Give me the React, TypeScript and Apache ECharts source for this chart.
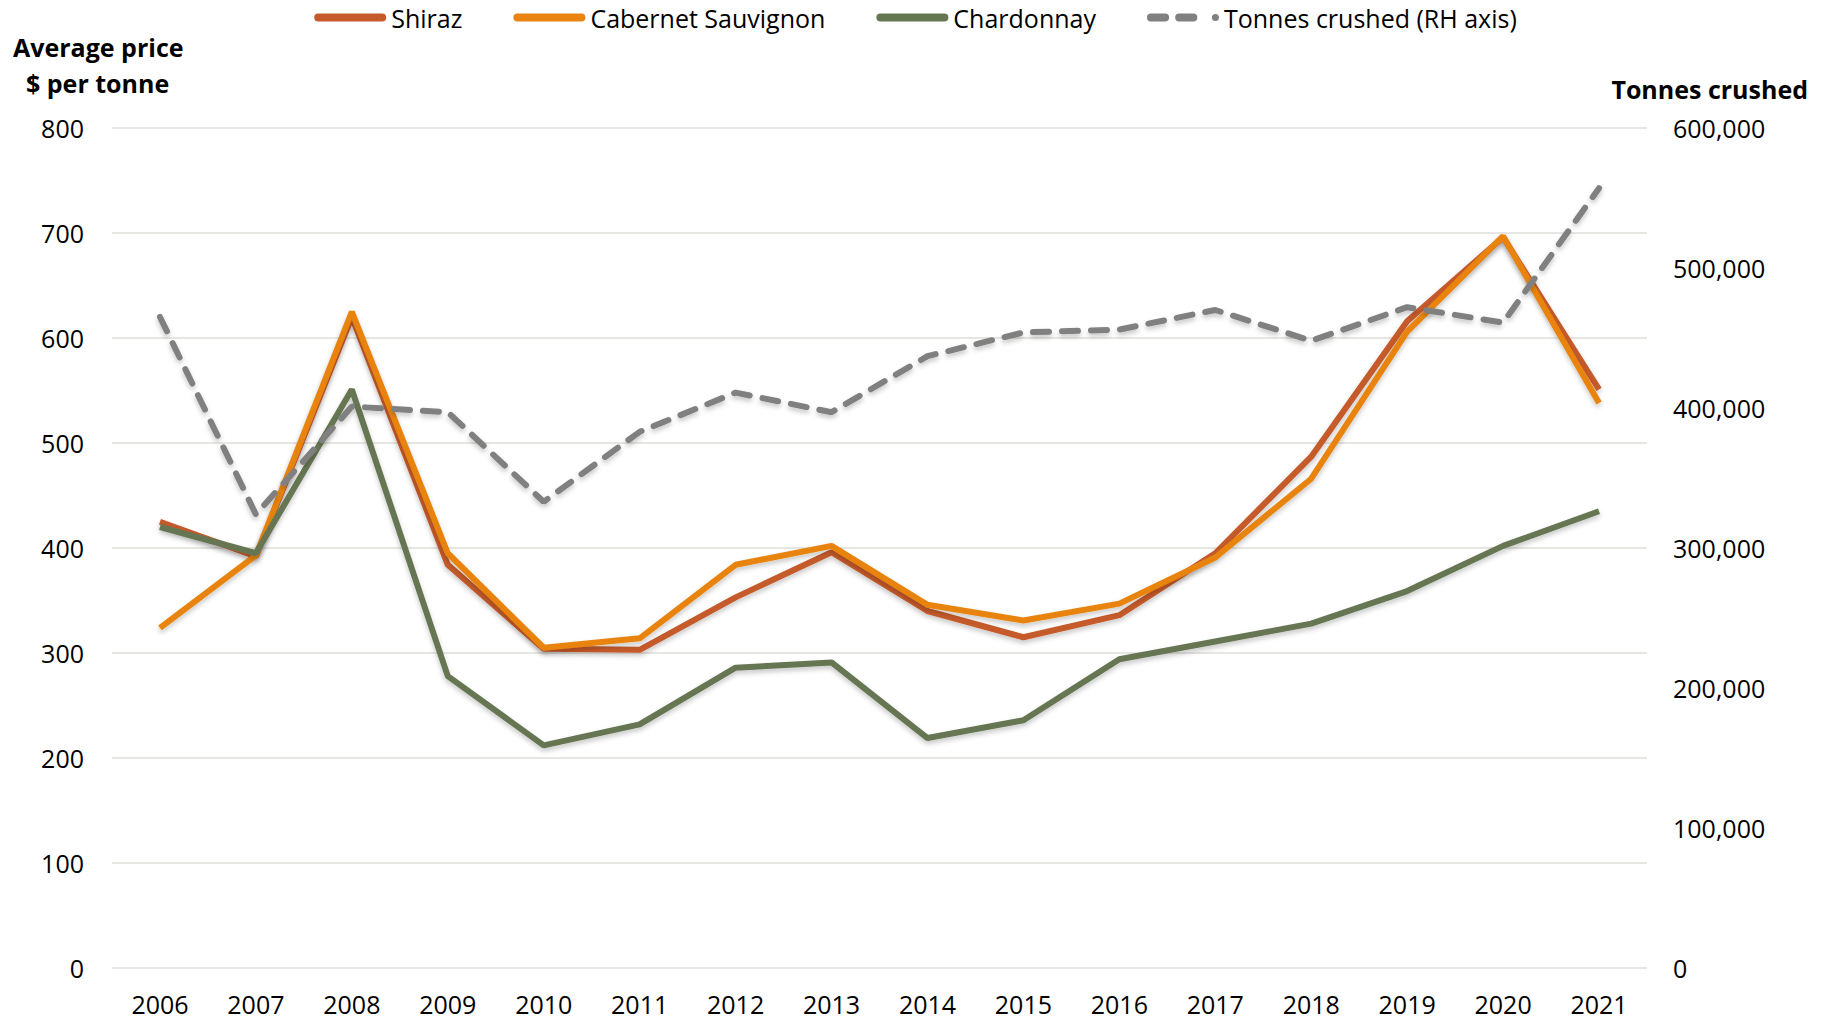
import React, { useEffect, useRef } from "react";
import * as echarts from "echarts";

const years = ["2006","2007","2008","2009","2010","2011","2012","2013","2014","2015","2016","2017","2018","2019","2020","2021"];
const shiraz = [425, 392, 620, 384, 304, 303, 353, 396, 340, 315, 336, 395, 487, 616, 696, 551];
const cabernet = [324, 393, 625, 395, 305, 314, 384, 402, 346, 331, 347, 391, 466, 606, 697, 538];
const chardonnay = [420, 395, 551, 278, 212, 232, 286, 291, 219, 236, 294, 311, 328, 359, 402, 435];
const tonnes = [465000, 324000, 401000, 397000, 333000, 383000, 411000, 397000, 437000, 454000, 456000, 470000, 448000, 472000, 461000, 557000];
const leftTicks = { min: 0, max: 800, interval: 100 };
const rightTicks = { min: 0, max: 600000, interval: 100000 };

const FONT = "'Open Sans', 'Noto Sans', sans-serif";
const SOLID_ICON = "path://M4,0 H68 A4,4 0 0 1 68,8 H4 A4,4 0 0 1 4,0 Z";
const DASH_ICON = "path://M4,0 H18 A4,4 0 0 1 18,8 H4 A4,4 0 0 1 4,0 Z M32,0 H46 A4,4 0 0 1 46,8 H32 A4,4 0 0 1 32,0 Z M68,0.5 A3.5,3.5 0 1 1 68,7.5 A3.5,3.5 0 1 1 68,0.5 Z";

export default function App() {
  const ref = useRef<HTMLDivElement>(null);
  useEffect(() => {
    if (!ref.current) return;
    const chart = echarts.init(ref.current, null, { renderer: "svg" });
    const shadow = { shadowColor: "rgba(0,0,0,0.22)", shadowBlur: 5, shadowOffsetY: 3 };
    chart.setOption({
      animation: false,
      backgroundColor: "#ffffff",
      textStyle: { fontFamily: FONT },
      grid: { left: 112, right: 184, top: 128, bottom: 52, containLabel: false },
      legend: {
        top: 0,
        left: "center",
        itemWidth: 72,
        itemHeight: 14,
        itemGap: 51,
        symbolKeepAspect: true,
        textStyle: { fontFamily: FONT, fontSize: 25, color: "#000" },
        data: [
          { name: "Shiraz", icon: SOLID_ICON, itemStyle: { borderWidth: 0 } },
          { name: "Cabernet Sauvignon", icon: SOLID_ICON, itemStyle: { borderWidth: 0 } },
          { name: "Chardonnay", icon: SOLID_ICON, itemStyle: { borderWidth: 0 } },
          { name: "Tonnes crushed (RH axis)", icon: DASH_ICON, itemStyle: { borderWidth: 0 } },
        ],
      },
      xAxis: {
        type: "category",
        data: years,
        boundaryGap: true,
        axisLine: { show: false },
        axisTick: { show: false },
        axisLabel: { fontSize: 25, color: "#000", margin: 23, fontFamily: FONT },
      },
      yAxis: [
        {
          type: "value",
          min: leftTicks.min,
          max: leftTicks.max,
          interval: leftTicks.interval,
          axisLine: { show: false },
          axisTick: { show: false },
          axisLabel: { fontSize: 25, color: "#000", margin: 28, fontFamily: FONT },
          splitLine: { show: true, lineStyle: { color: "#e6e6e2", width: 2 } },
        },
        {
          type: "value",
          min: rightTicks.min,
          max: rightTicks.max,
          interval: rightTicks.interval,
          position: "right",
          axisLine: { show: false },
          axisTick: { show: false },
          splitLine: { show: false },
          axisLabel: {
            fontSize: 25,
            color: "#000",
            margin: 26,
            fontFamily: FONT,
            formatter: (v: number) => v.toLocaleString("en-US"),
          },
        },
      ],
      graphic: [
        { type: "text", left: 13, top: 34, style: { text: "Average price", fontFamily: FONT, fontSize: 25, fontWeight: "bold", fill: "#000" } },
        { type: "text", left: 26, top: 70, style: { text: "$ per tonne", fontFamily: FONT, fontSize: 25, fontWeight: "bold", fill: "#000" } },
        { type: "text", right: 23, top: 76, style: { text: "Tonnes crushed", fontFamily: FONT, fontSize: 25, fontWeight: "bold", fill: "#000" } },
      ],
      series: [
        {
          name: "Shiraz",
          type: "line",
          data: shiraz,
          symbol: "none",
          yAxisIndex: 0,
          itemStyle: { color: "#C55A2B" },
          lineStyle: { color: "#C55A2B", width: 6, ...shadow },
        },
        {
          name: "Cabernet Sauvignon",
          type: "line",
          data: cabernet,
          symbol: "none",
          yAxisIndex: 0,
          itemStyle: { color: "#E8840F" },
          lineStyle: { color: "#E8840F", width: 6, ...shadow },
        },
        {
          name: "Chardonnay",
          type: "line",
          data: chardonnay,
          symbol: "none",
          yAxisIndex: 0,
          itemStyle: { color: "#667653" },
          lineStyle: { color: "#667653", width: 6, ...shadow },
        },
        {
          name: "Tonnes crushed (RH axis)",
          type: "line",
          data: tonnes,
          symbol: "none",
          yAxisIndex: 1,
          itemStyle: { color: "#808080" },
          lineStyle: { color: "#808080", width: 6, type: [16, 13], cap: "round", ...shadow },
        },
      ],
    });
    return () => chart.dispose();
  }, []);
  return <div ref={ref} style={{ position: "fixed", left: 0, top: 0, width: 1831, height: 1020 }} />;
}
